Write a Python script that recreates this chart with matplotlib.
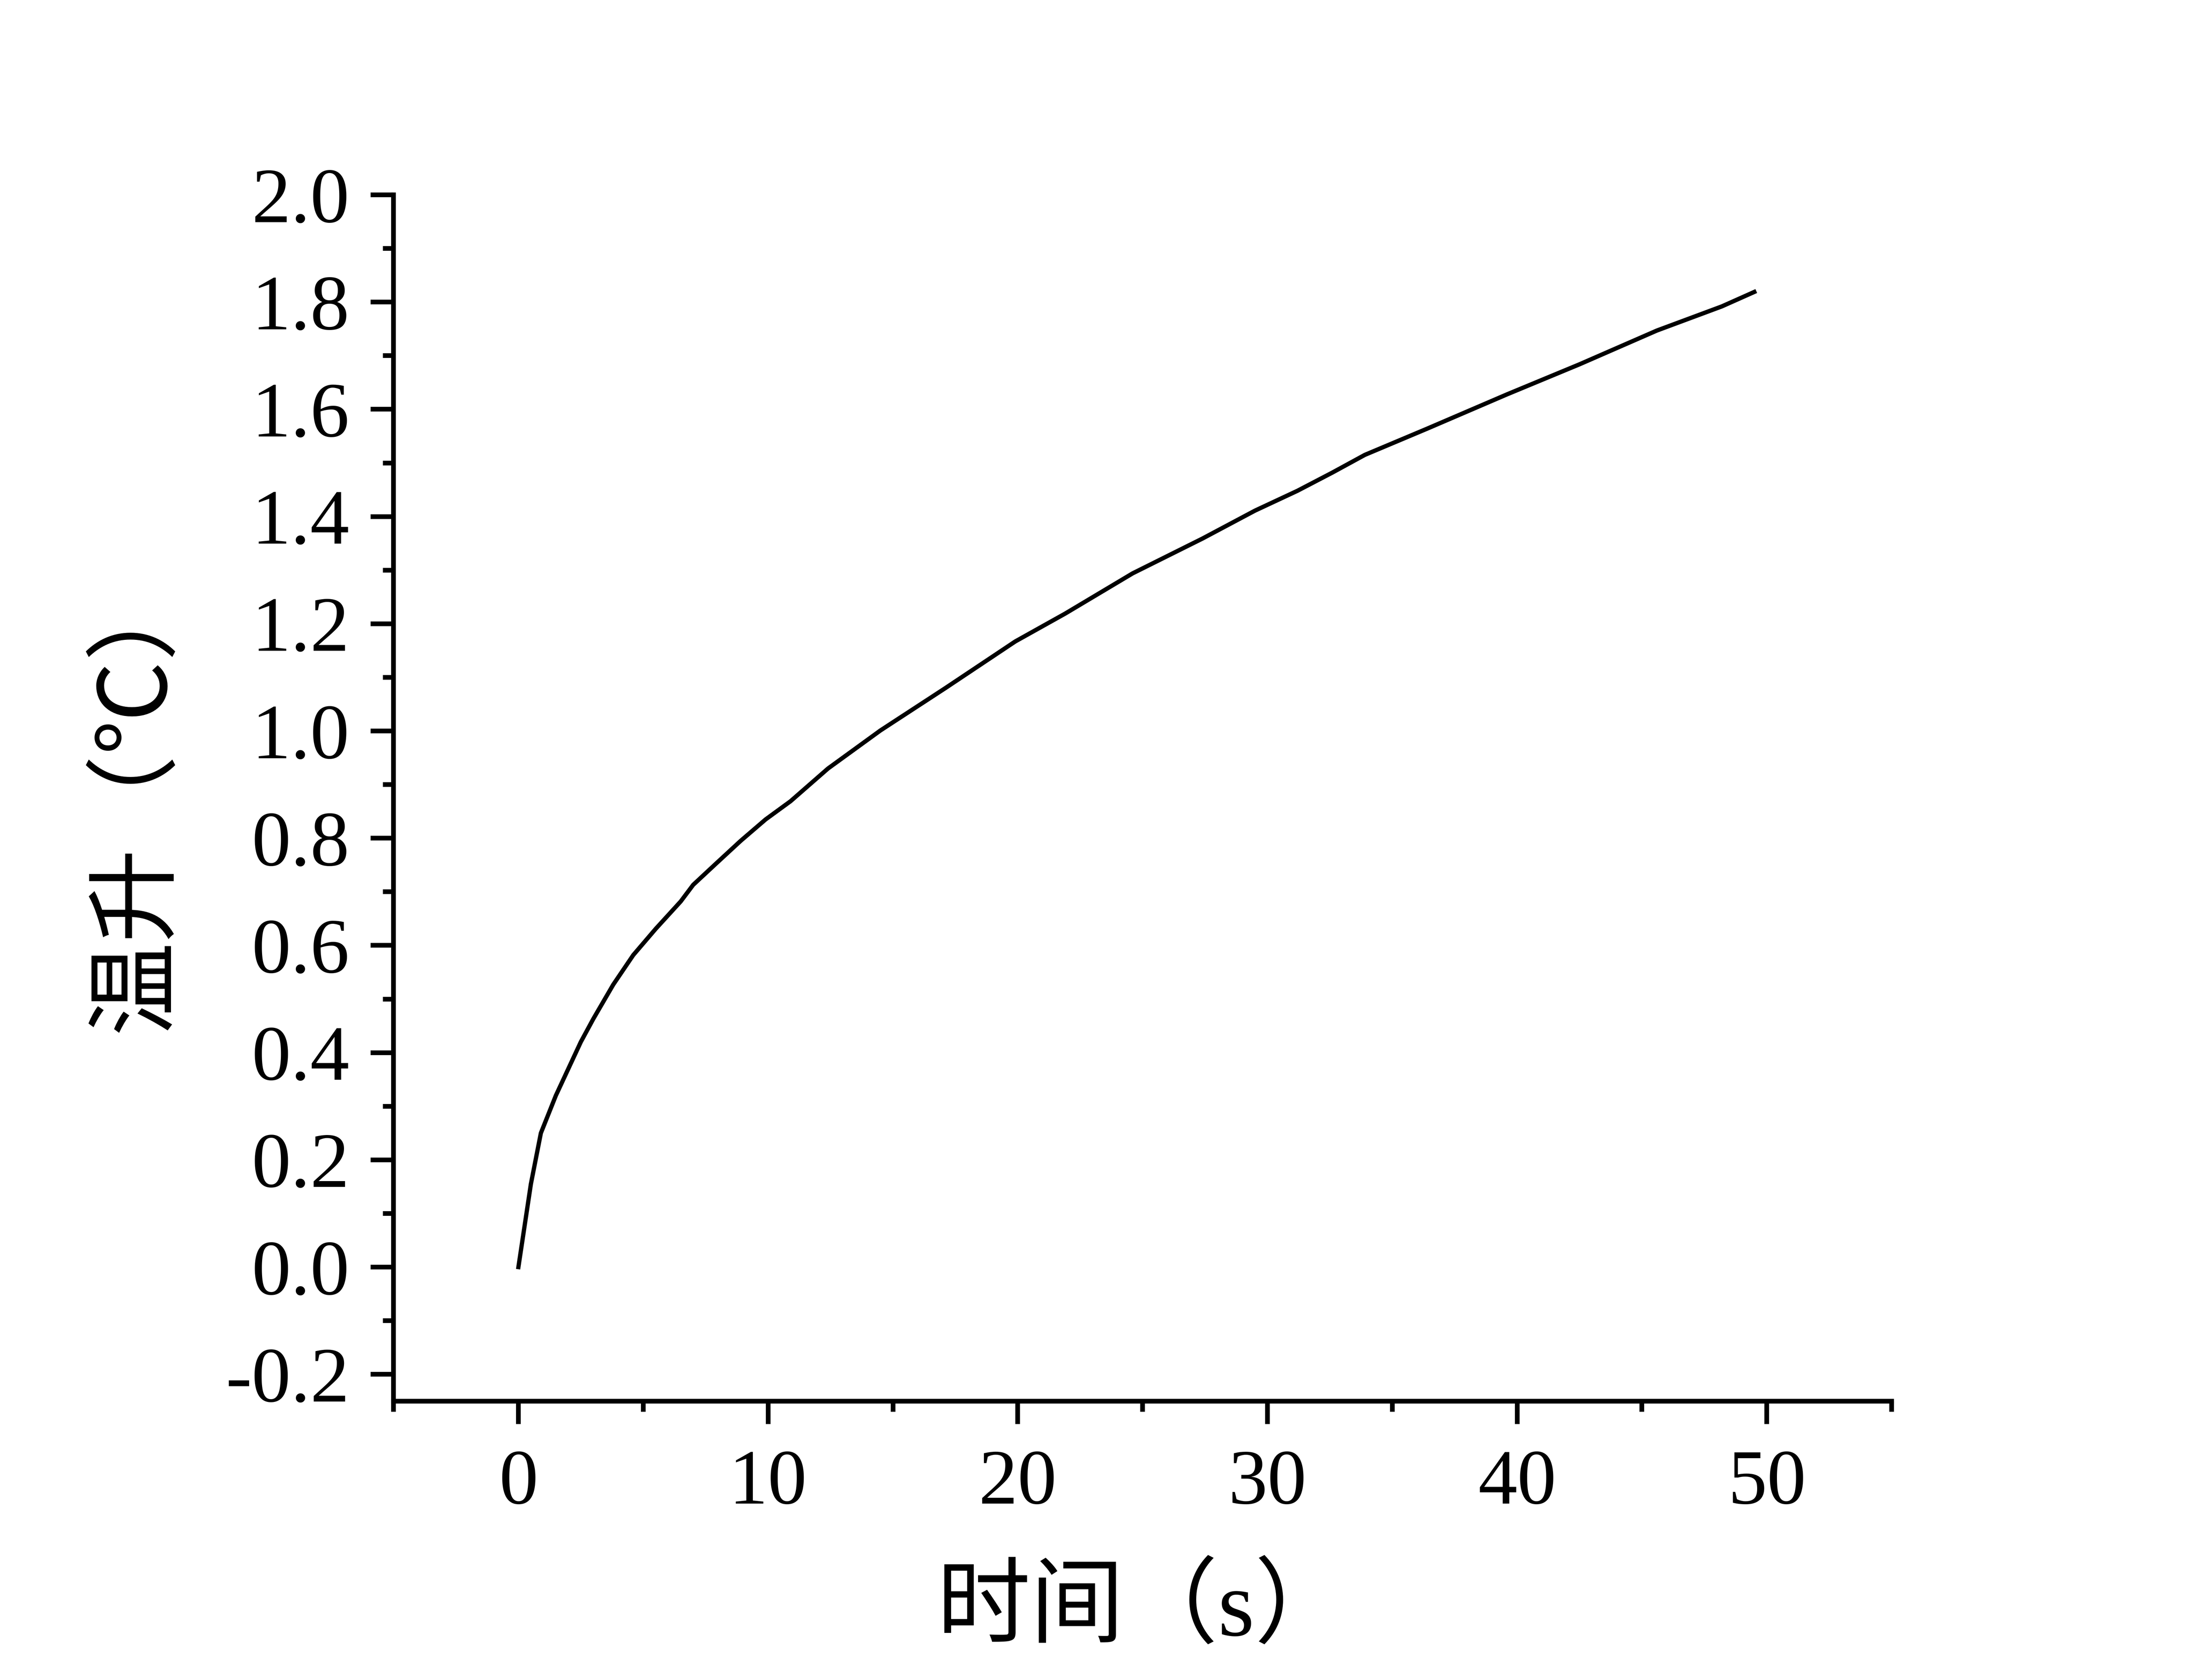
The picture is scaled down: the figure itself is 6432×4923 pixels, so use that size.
"""Temperature rise versus time curve."""

import matplotlib
matplotlib.use('Agg')
from matplotlib import pyplot
from matplotlib.ticker import MultipleLocator


# Values.
time_s = [0.0, 0.5, 0.9, 1.5, 2.5, 3.0, 3.8, 4.6, 5.5, 6.5, 7.0, 7.9,
          8.9, 9.9, 10.9, 12.4, 14.5, 17.1, 19.9, 21.9, 24.6, 27.4,
          29.5, 31.2, 32.6, 33.9, 36.4, 39.6, 42.5, 45.6, 48.2, 49.5]
temp_rise = [0.000, 0.155, 0.250, 0.320, 0.420, 0.463, 0.527, 0.582,
             0.631, 0.682, 0.713, 0.752, 0.795, 0.835, 0.869, 0.930,
             1.001, 1.080, 1.167, 1.219, 1.294, 1.359, 1.411, 1.448,
             1.482, 1.515, 1.564, 1.628, 1.684, 1.747, 1.792, 1.819]

xlabel = '时间（s）'
ylabel = '温升（℃）'

fonts = ['Liberation Serif', 'Noto Sans CJK SC', 'DejaVu Sans']
pyplot.rcParams['font.family'] = fonts

fig = pyplot.figure(figsize=(6432 / 300, 4923 / 300), dpi=300)
ax = fig.add_axes([0.1793, 0.1660, 0.6825, 0.7180])
ax.plot(time_s, temp_rise, color='black', linewidth=3.0)

ax.set_xlim(-5.0, 55.0)
ax.set_ylim(-0.25, 2.0)
ax.xaxis.set_major_locator(MultipleLocator(10))
ax.xaxis.set_minor_locator(MultipleLocator(5))
ax.yaxis.set_major_locator(MultipleLocator(0.2))
ax.yaxis.set_minor_locator(MultipleLocator(0.1))
ax.yaxis.set_major_formatter(lambda v, pos: f'{v:.1f}')
ax.xaxis.set_major_formatter(lambda v, pos: f'{v:.0f}')

for side in ['top', 'right']:
    ax.spines[side].set_visible(False)
for side in ['left', 'bottom']:
    ax.spines[side].set_linewidth(3.3)

ax.tick_params(which='major', direction='out', length=16, width=3.3,
               labelsize=55)
ax.tick_params(which='minor', direction='out', length=7.5, width=3.3)
ax.tick_params(axis='y', which='major', pad=15)
ax.tick_params(axis='x', which='major', pad=18)

ax.set_xlabel(xlabel, fontsize=66, labelpad=32)
ax.set_ylabel(ylabel, fontsize=66, labelpad=30)

fig.savefig('out.png', dpi=300)
